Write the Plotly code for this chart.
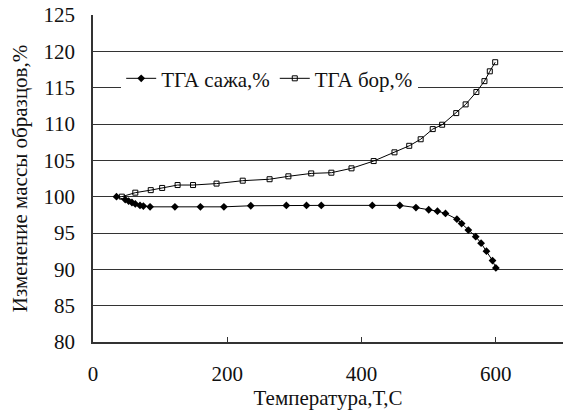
import plotly.graph_objects as go

soot_T = [35, 48, 53, 58, 63, 70, 75, 85, 122, 160, 195, 235, 288, 318, 340, 416, 457,
          481, 500, 513, 525, 542, 549, 559, 570, 578, 586, 595, 600]
soot_m = [100.0, 99.6, 99.4, 99.2, 99.0, 98.8, 98.7, 98.6, 98.6, 98.6, 98.6, 98.75, 98.8, 98.8, 98.8, 98.8, 98.8,
          98.5, 98.2, 98.0, 97.7, 96.9, 96.3, 95.4, 94.5, 93.6, 92.5, 91.2, 90.2]

boron_T = [43, 63, 86, 103, 126, 149, 184, 223, 263, 291, 325, 355, 385, 418, 449, 471,
           488, 506, 520, 541, 555, 571, 583, 591, 599]
boron_m = [100.0, 100.55, 100.9, 101.2, 101.6, 101.6, 101.8, 102.2, 102.4, 102.8, 103.2, 103.3, 103.9, 104.9,
           106.1, 107.0, 107.9, 109.3, 109.9, 111.5, 112.7, 114.4, 115.9, 117.25, 118.5]

x_ticks = [0, 200, 400, 600]
y_ticks = [80, 85, 90, 95, 100, 105, 110, 115, 120, 125]

font = "Liberation Serif"
fs = 21

fig = go.Figure()
fig.add_trace(go.Scatter(
    x=soot_T, y=soot_m, mode="lines+markers", name="ТГА сажа,%",
    line=dict(color="black", width=1),
    marker=dict(symbol="diamond", size=6, color="black"),
))
fig.add_trace(go.Scatter(
    x=boron_T, y=boron_m, mode="lines+markers", name="ТГА бор,%",
    line=dict(color="black", width=1),
    marker=dict(symbol="square-open", size=5, color="black", line=dict(width=1)),
))

fig.update_layout(
    width=563, height=414,
    margin=dict(l=93, r=0, t=15, b=72),
    paper_bgcolor="white", plot_bgcolor="white",
    font=dict(family=font, size=fs, color="#111"),
    showlegend=True,
    legend=dict(orientation="h", x=0.06, y=0.868, xanchor="left", yanchor="top",
                bgcolor="white", font=dict(family=font, size=fs, color="#111"),
                itemwidth=30, tracegroupgap=0),
    xaxis=dict(range=[0, 700], tickvals=x_ticks, ticks="inside", ticklen=5,
               tickcolor="#333", showline=True, linecolor="#333", linewidth=1.5,
               showgrid=False, zeroline=False, automargin=False,
               ticklabelstandoff=12,
               title=dict(text="Температура,Т,С", font=dict(family=font, size=fs), standoff=2),
               tickfont=dict(family=font, size=fs)),
    yaxis=dict(range=[80, 125], tickvals=y_ticks, ticks="", showline=True,
               linecolor="#333", linewidth=1.5, showgrid=True, gridcolor="#333",
               gridwidth=1.2, zeroline=False, ticklabelstandoff=12, automargin=False,
               title=dict(text="Изменение массы образцов,%", font=dict(family=font, size=fs), standoff=10),
               tickfont=dict(family=font, size=fs)),
)

fig.write_html(
    "out.html",
    config={"displayModeBar": False},
    post_script="document.body.style.margin='0';document.body.style.overflow='hidden';",
)
